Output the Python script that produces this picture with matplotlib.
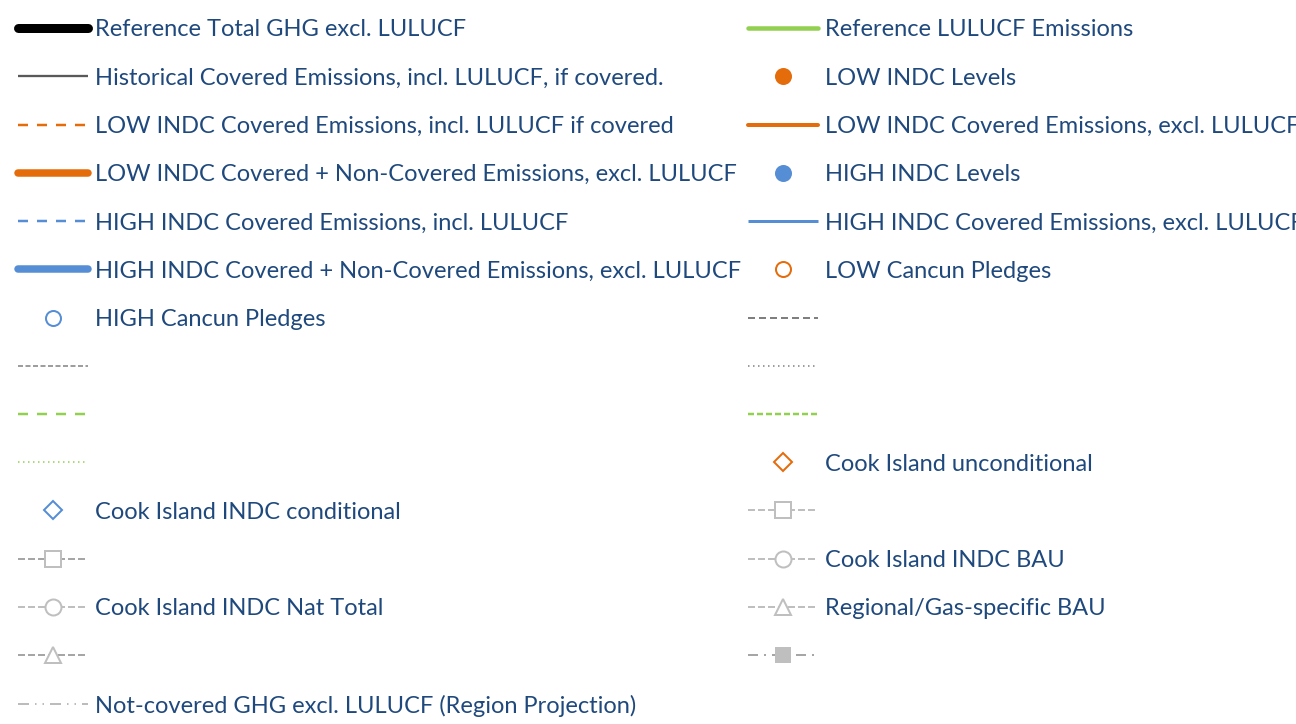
import matplotlib
matplotlib.use('Agg')
import matplotlib.pyplot as plt
from matplotlib.lines import Line2D

# подписи легенды (левая и правая колонки)
left_labels = [
    'Reference Total GHG excl. LULUCF',
    'Historical Covered Emissions, incl. LULUCF, if covered.',
    'LOW INDC Covered Emissions, incl. LULUCF if covered',
    'LOW INDC Covered + Non-Covered Emissions, excl. LULUCF',
    'HIGH INDC Covered Emissions, incl. LULUCF',
    'HIGH INDC Covered + Non-Covered Emissions, excl. LULUCF',
    'HIGH Cancun Pledges',
    '',
    '',
    '',
    'Cook Island INDC conditional',
    '',
    'Cook Island INDC Nat Total',
    '',
    'Not-covered GHG excl. LULUCF (Region Projection)',
]
right_labels = [
    'Reference LULUCF Emissions',
    'LOW INDC Levels',
    'LOW INDC Covered Emissions, excl. LULUCF',
    'HIGH INDC Levels',
    'HIGH INDC Covered Emissions, excl. LULUCF',
    'LOW Cancun Pledges',
    '',
    '',
    '',
    'Cook Island unconditional',
    '',
    'Cook Island INDC BAU',
    'Regional/Gas-specific BAU',
    '',
]

ORANGE = '#E46C0A'
BLUE = '#558ED5'
GREEN = '#92D050'
TXT = '#1F497D'
GRAY_D = '#595959'
GRAY = '#7F7F7F'
GRAY_L = '#A6A6A6'
GRAY_XL = '#BFBFBF'

plt.rcParams['lines.scale_dashes'] = False
plt.rcParams['font.family'] = ['Lato', 'DejaVu Sans']


def px(v):
    # пиксели -> пункты при dpi=100
    return v * 0.72


def ln(color, w, dashes=None, cap='round', **kw):
    h = Line2D([], [], color=color, linewidth=px(w), solid_capstyle=cap,
               dash_capstyle='butt', **kw)
    if dashes:
        h.set_dashes([px(d) for d in dashes])
    return h


def mk(marker, color, size, fill='none', ew=2):
    return Line2D([], [], linestyle='none', marker=marker, markersize=px(size),
                  markerfacecolor=fill, markeredgecolor=color, markeredgewidth=px(ew))


def mkline(marker, color, mcolor, size, dashes, fill='white'):
    return ln(color, 2, dashes=dashes, marker=marker, markersize=px(size),
              markerfacecolor=fill, markeredgecolor=mcolor, markeredgewidth=px(2))


left_handles = [
    ln('black', 9),
    ln(GRAY_D, 2.3, cap='butt'),
    ln(ORANGE, 2.5, dashes=[10, 9]),
    ln(ORANGE, 7.5),
    ln(BLUE, 2.5, dashes=[10, 9]),
    ln(BLUE, 7.5),
    mk('o', BLUE, 15),
    ln(GRAY, 1.5, dashes=[5, 2.5]),
    ln(GREEN, 2.5, dashes=[10, 9]),
    ln(GREEN, 1.5, dashes=[1.5, 3.5]),
    mk('D', BLUE, 13),
    mkline('s', GRAY_L, GRAY_XL, 16, [7, 3]),
    mkline('o', GRAY_XL, GRAY_XL, 16, [7, 3]),
    mkline('^', GRAY_L, GRAY_XL, 16, [7, 3]),
    ln(GRAY_L, 1.5, dashes=[11, 6, 1.5, 6, 1.5, 6], cap='butt'),
]
right_handles = [
    ln(GREEN, 4.5),
    mk('o', ORANGE, 15, fill=ORANGE),
    ln(ORANGE, 4),
    mk('o', BLUE, 15, fill=BLUE),
    ln(BLUE, 3, cap='butt'),
    mk('o', ORANGE, 15),
    ln(GRAY, 2, dashes=[7, 4]),
    ln(GRAY, 1.5, dashes=[1.5, 3.5]),
    ln(GREEN, 2.5, dashes=[6, 3]),
    mk('D', ORANGE, 13),
    mkline('s', GRAY_XL, GRAY_XL, 16, [7, 3]),
    mkline('o', GRAY_XL, GRAY_XL, 16, [7, 3]),
    mkline('^', GRAY_XL, GRAY_XL, 16, [7, 3]),
    mkline('s', GRAY_L, GRAY_XL, 14, [10, 6, 2, 6], fill=GRAY_XL),
]

W, H = 1296, 724
fig = plt.figure(figsize=(W / 100, H / 100), dpi=100)

fs = 17
fs_px = fs / 0.72
common = dict(loc='upper left', frameon=False, fontsize=fs, labelcolor=TXT,
              borderpad=0, borderaxespad=0, numpoints=1,
              handlelength=70 / fs_px, handletextpad=7 / fs_px,
              labelspacing=1.153)

leg1 = fig.legend(left_handles, left_labels, bbox_to_anchor=(18 / W, 1 - 19.5 / H), **common)
leg2 = fig.legend(right_handles, right_labels, bbox_to_anchor=(748 / W, 1 - 19.5 / H), **common)

fig.savefig('out.png', dpi=100)
